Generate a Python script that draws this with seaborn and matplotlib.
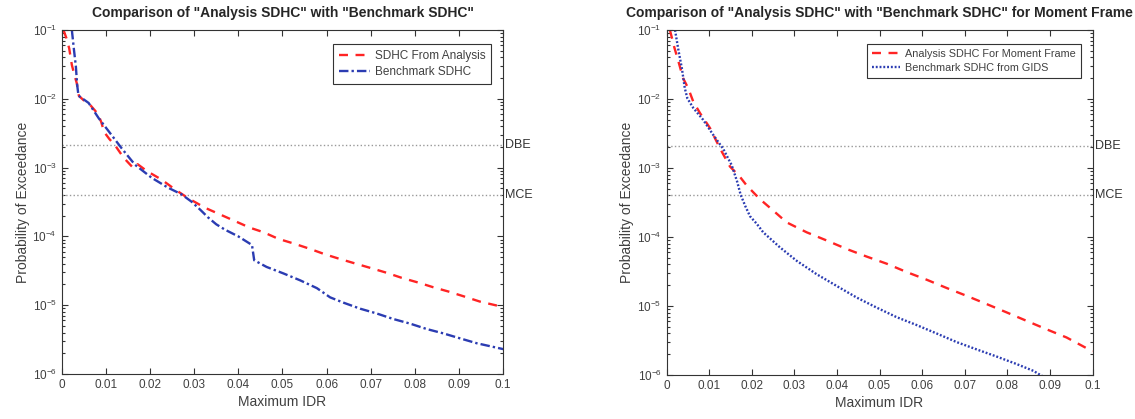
import matplotlib
matplotlib.use("Agg")
import matplotlib.pyplot as plt
import matplotlib.ticker as mticker
import seaborn as sns

# left panel: SDHC from analysis vs benchmark
left_ana_x = [0.0004, 0.0011, 0.0017, 0.0023, 0.0029, 0.0034, 0.0039, 0.0050, 0.0064,
              0.0075, 0.0083, 0.0090, 0.0096, 0.0108, 0.0121, 0.0140, 0.0160, 0.0166,
              0.0172, 0.0193, 0.0226, 0.0257, 0.0286, 0.0325, 0.0426, 0.0457, 0.0491,
              0.0525, 0.0562, 0.0596, 0.0630, 0.0667, 0.0702, 0.0736, 0.0770, 0.0808,
              0.0842, 0.0876, 0.0913, 0.0947, 0.1000]
left_ana_y = [0.1, 0.075, 0.054, 0.031, 0.022, 0.017, 0.011, 0.0095, 0.0082,
              0.0068, 0.0059, 0.0045, 0.0033, 0.0026, 0.0021, 0.0014, 0.00102, 0.00099,
              0.00112, 0.00089, 0.00067, 0.00048, 0.00036, 0.00026, 1.34e-4, 1.15e-4, 9.2e-5,
              7.9e-5, 6.6e-5, 5.5e-5, 4.7e-5, 4.0e-5, 3.44e-5, 2.96e-5, 2.5e-5, 2.13e-5,
              1.82e-5, 1.58e-5, 1.33e-5, 1.13e-5, 9.4e-6]

left_bench_x = [0.0023, 0.0028, 0.0032, 0.0035, 0.0038, 0.0061, 0.0084, 0.0106, 0.0136,
                0.0166, 0.0204, 0.0241, 0.0271, 0.0294, 0.0315, 0.0331, 0.0350, 0.0370,
                0.0400, 0.0431, 0.0436, 0.0464, 0.0502, 0.0540, 0.0578, 0.0608, 0.0638,
                0.0676, 0.0713, 0.0751, 0.0789, 0.0827, 0.0864, 0.0902, 0.0940, 0.1000]
left_bench_y = [0.1, 0.05, 0.03, 0.016, 0.0111, 0.0087, 0.0052, 0.0034, 0.0019,
                0.0011, 0.00071, 0.00051, 0.00041, 0.00032, 0.00024, 0.00019, 0.00015, 0.000125,
                0.0001, 7.5e-5, 4.5e-5, 3.6e-5, 2.9e-5, 2.3e-5, 1.77e-5, 1.3e-5, 1.09e-5,
                8.9e-6, 7.6e-6, 6.3e-6, 5.4e-6, 4.5e-6, 3.9e-6, 3.3e-6, 2.8e-6, 2.3e-6]

# right panel: moment frame
right_ana_x = [0.0008, 0.0018, 0.0028, 0.0039, 0.0051, 0.0063, 0.0079, 0.0102, 0.0126,
               0.0149, 0.0172, 0.0188, 0.0219, 0.0251, 0.0282, 0.0329, 0.0376, 0.0423,
               0.0470, 0.0517, 0.0564, 0.0611, 0.0658, 0.0705, 0.0751, 0.0798, 0.0845,
               0.0892, 0.0939, 0.1000]
right_ana_y = [0.1, 0.057, 0.035, 0.02, 0.0143, 0.0091, 0.0062, 0.0038, 0.0019,
               0.00105, 0.00075, 0.00056, 0.000355, 0.00024, 0.000163, 0.000117, 8.9e-5, 6.7e-5,
               5.2e-5, 4.1e-5, 3.1e-5, 2.4e-5, 1.82e-5, 1.4e-5, 1.07e-5, 8.1e-6, 6.1e-6,
               4.6e-6, 3.5e-6, 2.2e-6]

right_bench_x = [0.0020, 0.0028, 0.0036, 0.0043, 0.0049, 0.0063, 0.0086, 0.0110, 0.0133,
                 0.0153, 0.0166, 0.0174, 0.0185, 0.0196, 0.0212, 0.0227, 0.0266, 0.0306,
                 0.0352, 0.0399, 0.0446, 0.0493, 0.0540, 0.0587, 0.0634, 0.0681, 0.0728,
                 0.0775, 0.0822, 0.0861, 0.0880, 0.0920]
right_bench_y = [0.1, 0.051, 0.028, 0.0143, 0.0102, 0.0074, 0.005, 0.003, 0.0019,
                 0.0011, 0.00063, 0.00041, 0.00028, 0.0002, 0.000155, 0.000117, 7.1e-5, 4.5e-5,
                 2.9e-5, 1.96e-5, 1.33e-5, 9.5e-6, 6.9e-6, 5.3e-6, 4.0e-6, 3.0e-6, 2.35e-6,
                 1.85e-6, 1.44e-6, 1.15e-6, 9.8e-7, 7.5e-7]

hazard_levels = {"DBE": 1 / 475, "MCE": 1 / 2475}
x_ticks = [0, 0.01, 0.02, 0.03, 0.04, 0.05, 0.06, 0.07, 0.08, 0.09, 0.1]

sns.set_style("ticks")
plt.rcParams['font.family'] = ['Liberation Sans', 'DejaVu Sans']
plt.rcParams['mathtext.fontset'] = 'custom'
plt.rcParams['mathtext.rm'] = 'Liberation Sans'

RED = "#ff2424"
BLUE = "#2b3cb2"
TXT = "#404040"

fig = plt.figure(figsize=(11.35, 4.19), dpi=100)
ax1 = fig.add_axes([61.7 / 1135, 45 / 419, 441.5 / 1135, 344 / 419])
ax2 = fig.add_axes([666.5 / 1135, 44 / 419, 426 / 1135, 345 / 419])


def style_axis(ax, title, legend_size):
    ax.set_yscale("log")
    ax.set_xlim(0, 0.1)
    ax.set_ylim(1e-6, 1e-1)
    ax.set_xticks(x_ticks)
    ax.xaxis.set_major_formatter(mticker.FormatStrFormatter("%g"))
    ax.yaxis.set_minor_locator(mticker.LogLocator(base=10, subs=range(2, 10), numticks=20))
    ax.yaxis.set_minor_formatter(mticker.NullFormatter())
    ax.tick_params(which="both", direction="in", top=True, right=True,
                   colors="#333333", labelcolor=TXT, labelsize=8.5, width=0.8)
    ax.tick_params(which="major", length=4)
    ax.tick_params(which="minor", length=2)
    for sp in ax.spines.values():
        sp.set_color("#333333")
        sp.set_linewidth(0.8)
    ax.set_xlabel("Maximum IDR", fontsize=10, color=TXT, labelpad=3)
    ax.set_ylabel("Probability of Exceedance", fontsize=10, color=TXT, labelpad=2)
    ax.set_title(title, fontsize=10, fontweight="bold", pad=9)
    for name, val in hazard_levels.items():
        ax.axhline(val, color="#999999", linestyle=":", linewidth=1.0, zorder=1)
        ax.text(0.1005, val, name, fontsize=9, color="#333333", ha="left", va="center",
                clip_on=False)
    leg = ax.legend(loc="upper right", bbox_to_anchor=(0.973, 0.96), borderaxespad=0,
                    fancybox=False, framealpha=1, edgecolor="#333333", fontsize=legend_size,
                    handlelength=2.6, handletextpad=0.4, borderpad=0.5, labelspacing=0.35)
    leg.get_frame().set_linewidth(0.8)
    for t in leg.get_texts():
        t.set_color(TXT)


sns.lineplot(x=left_ana_x, y=left_ana_y, ax=ax1, color=RED, linewidth=1.7,
             dashes=False, linestyle=(0, (3.8, 3.2)), label="SDHC From Analysis")
sns.lineplot(x=left_bench_x, y=left_bench_y, ax=ax1, color=BLUE, linewidth=1.7,
             dashes=False, linestyle=(0, (4, 1.3, 1, 1.3)), label="Benchmark SDHC")
style_axis(ax1, 'Comparison of "Analysis SDHC" with "Benchmark SDHC"', 8.5)

sns.lineplot(x=right_ana_x, y=right_ana_y, ax=ax2, color=RED, linewidth=1.7,
             dashes=False, linestyle=(0, (3.8, 3.2)), label="Analysis SDHC For Moment Frame")
sns.lineplot(x=right_bench_x, y=right_bench_y, ax=ax2, color=BLUE, linewidth=1.7,
             dashes=False, linestyle=(0, (0.8, 0.8)), label="Benchmark SDHC from GIDS")
style_axis(ax2, 'Comparison of "Analysis SDHC" with "Benchmark SDHC" for Moment Frame', 7.8)

fig.savefig("out.png", dpi=100)
